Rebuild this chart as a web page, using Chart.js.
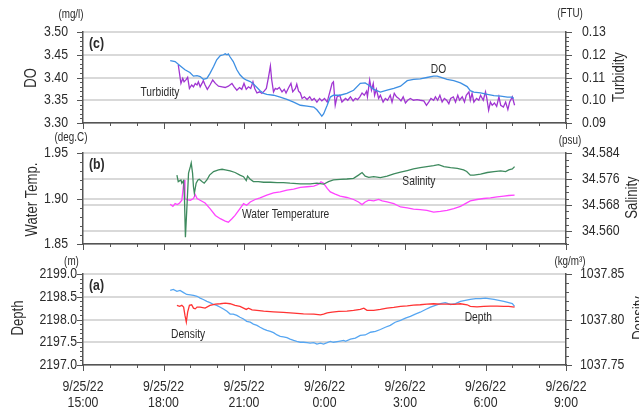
<!DOCTYPE html>
<html>
<head>
<meta charset="utf-8">
<script src="https://cdn.jsdelivr.net/npm/chart.js@4"></script>
<style>
  html, body { margin: 0; padding: 0; background: #fff; }
  #wrap { position: relative; width: 639px; height: 415px; overflow: hidden; }
  #wrap canvas { position: absolute; left: 0; top: 0; }
</style>
</head>
<body>
<div id="wrap">
  <canvas id="panelC" width="639" height="415"></canvas>
  <canvas id="panelB" width="639" height="415"></canvas>
  <canvas id="panelA" width="639" height="415"></canvas>
</div>
<script>
// time is in minutes after 9/25/22 15:00
const timeTickMinutes = [0, 180, 360, 540, 720, 900, 1080];
const timeTickLabels = [
    ['9/25/22', '15:00'], ['9/25/22', '18:00'], ['9/25/22', '21:00'], ['9/26/22', '0:00'],
    ['9/26/22', '3:00'], ['9/26/22', '6:00'], ['9/26/22', '9:00']
];

const doTicks = ['3.30', '3.35', '3.40', '3.45', '3.50'];
const turbTicks = ['0.09', '0.10', '0.11', '0.12', '0.13'];
const tempTicks = ['1.85', '1.90', '1.95'];
const salTicks = ['34.560', '34.568', '34.576', '34.584'];
const depthTicks = ['2197.0', '2197.5', '2198.0', '2198.5', '2199.0'];
const densTicks = ['1037.75', '1037.80', '1037.85'];

// (c) DO [mg/l]
const doTime = [195, 206, 217, 228, 239, 247, 255, 262, 269, 277,
    284, 292, 299, 307, 314, 318, 322, 325, 329, 336,
    344, 351, 359, 366, 374, 381, 389, 396, 404, 411,
    426, 441, 456, 471, 486, 501, 516, 523, 531, 534,
    538, 546, 553, 560, 575, 590, 605, 620, 631, 639,
    650, 665, 680, 695, 710, 725, 739, 754, 769, 784,
    792, 799, 814, 829, 844, 859, 866, 874, 889, 904,
    919, 934, 949, 960, 963];
const doValue = [3.437, 3.435, 3.426, 3.417, 3.411, 3.403, 3.404, 3.402, 3.396, 3.398,
    3.409, 3.424, 3.439, 3.448, 3.450, 3.452, 3.450, 3.452, 3.445, 3.435,
    3.417, 3.406, 3.398, 3.394, 3.391, 3.386, 3.378, 3.371, 3.365, 3.363,
    3.361, 3.357, 3.352, 3.346, 3.339, 3.337, 3.335, 3.329, 3.319, 3.315,
    3.320, 3.339, 3.357, 3.361, 3.361, 3.365, 3.372, 3.387, 3.388, 3.383,
    3.374, 3.368, 3.372, 3.376, 3.381, 3.393, 3.396, 3.397, 3.400, 3.403,
    3.403, 3.401, 3.396, 3.393, 3.388, 3.380, 3.371, 3.368, 3.366, 3.363,
    3.360, 3.359, 3.357, 3.357, 3.354];

// (c) Turbidity [FTU]
const turbTime = [213, 219, 223, 226, 231, 234, 238, 243, 247, 251,
    255, 258, 262, 266, 269, 273, 278, 284, 290, 296,
    303, 311, 318, 325, 333, 338, 344, 350, 355, 360,
    365, 370, 375, 380, 384, 389, 395, 400, 405, 410,
    415, 419, 422, 426, 430, 434, 439, 445, 450, 454,
    460, 465, 469, 475, 478, 482, 486, 490, 495, 501,
    507, 512, 517, 523, 529, 534, 540, 546, 549, 553,
    557, 560, 564, 568, 574, 579, 587, 592, 598, 604,
    609, 614, 619, 624, 629, 634, 636, 641, 645, 649,
    652, 656, 661, 665, 671, 676, 681, 687, 691, 696,
    701, 706, 711, 716, 721, 726, 732, 739, 747, 754,
    762, 768, 773, 778, 784, 788, 793, 798, 803, 808,
    813, 818, 822, 828, 833, 838, 842, 848, 853, 857,
    863, 866, 870, 874, 880, 885, 889, 895, 900, 903,
    907, 911, 915, 920, 925, 930, 934, 940, 945, 950,
    954, 960, 965];
const turbValue = [.1156, .1074, .1096, .1081, .1092, .1101, .1052, .1067, .1059, .1074,
    .1067, .1081, .1059, .1074, .1086, .1067, .1048, .1067, .1089, .1074,
    .1062, .1059, .1056, .1062, .1074, .1059, .1044, .1056, .1048, .1074,
    .1048, .1059, .1052, .1081, .1052, .1032, .1037, .1030, .1040, .1052,
    .1104, .1151, .1089, .1037, .1052, .1048, .1056, .1037, .1048, .1032,
    .1056, .1074, .1037, .1052, .1071, .1040, .1032, .1008, .1015, .1003,
    .1015, .1000, .1008, .0992, .1008, .0997, .1008, .0992, .1015, .1044,
    .1074, .1081, .0978, .1015, .1022, .0992, .1008, .1000, .1015, .0997,
    .1008, .1003, .1015, .1032, .1022, .1040, .1015, .1089, .1044, .1074,
    .1022, .1048, .1008, .1022, .0992, .1008, .1000, .1022, .0992, .1030,
    .1015, .1008, .0997, .1015, .0988, .1000, .1008, .1000, .1003, .1000,
    .0997, .0978, .0992, .1008, .1000, .1015, .1000, .1022, .0992, .1008,
    .1000, .0985, .1008, .1015, .0992, .1022, .1000, .1015, .0992, .1022,
    .1037, .1000, .1030, .0992, .1008, .1000, .1022, .1000, .1037, .1008,
    .0956, .0992, .0978, .0988, .0973, .1015, .0978, .0970, .0992, .0959,
    .0992, .1015, .0978];

// (b) Water temperature [deg.C]
const tempTime = [195, 201, 206, 211, 216, 221, 226, 228, 232, 240,
    247, 251, 255, 262, 273, 284, 296, 307, 318, 325,
    333, 340, 351, 359, 366, 374, 385, 396, 411, 426,
    441, 456, 471, 486, 501, 516, 527, 532, 538, 546,
    553, 564, 575, 590, 605, 616, 624, 631, 639, 650,
    661, 669, 680, 695, 710, 725, 739, 754, 769, 784,
    799, 814, 829, 844, 855, 866, 881, 896, 911, 926,
    941, 952, 965];
const tempValue = [1.8937, 1.8914, 1.8944, 1.8933, 1.8951, 1.8981, 1.9203, 1.9000, 1.8987, 1.8981,
    1.9000, 1.9044, 1.9000, 1.8981, 1.8951, 1.8889, 1.8814, 1.8778, 1.8751, 1.8740,
    1.8778, 1.8814, 1.8889, 1.8944, 1.8926, 1.8962, 1.8989, 1.9007, 1.9037, 1.9062,
    1.9073, 1.9092, 1.9103, 1.9122, 1.9129, 1.9137, 1.9156, 1.9184, 1.9167, 1.9111,
    1.9073, 1.9048, 1.9026, 1.9011, 1.8989, 1.8962, 1.8933, 1.8962, 1.8981, 1.8973,
    1.8989, 1.8973, 1.8962, 1.8944, 1.8907, 1.8896, 1.8884, 1.8878, 1.8870, 1.8851,
    1.8859, 1.8870, 1.8889, 1.8914, 1.8944, 1.8973, 1.8989, 1.9000, 1.9007, 1.9018,
    1.9026, 1.9033, 1.9037];

// (b) Salinity [psu]
const salTime = [210, 213, 219, 221, 225, 227, 229, 232, 236, 240,
    242, 245, 247, 249, 253, 257, 260, 266, 271, 277,
    283, 292, 303, 311, 318, 329, 340, 351, 359, 365,
    368, 374, 381, 392, 404, 419, 434, 448, 463, 486,
    508, 523, 538, 549, 560, 575, 590, 605, 616, 624,
    631, 639, 650, 665, 680, 695, 710, 725, 739, 754,
    769, 784, 795, 807, 822, 837, 851, 858, 866, 874,
    889, 904, 919, 934, 945, 952, 960, 965];
const salValue = [34.5772, 34.5752, 34.5757, 34.5747, 34.5755, 34.5695, 34.5581, 34.5664, 34.5778, 34.5798,
    34.5809, 34.5778, 34.5736, 34.5716, 34.5747, 34.5757, 34.5759, 34.5752, 34.5747, 34.5757,
    34.5772, 34.5783, 34.5788, 34.5790, 34.5788, 34.5785, 34.5780, 34.5772, 34.5767, 34.5755,
    34.5769, 34.5759, 34.5752, 34.5752, 34.5750, 34.5750, 34.5749, 34.5749, 34.5747, 34.5745,
    34.5745, 34.5747, 34.5744, 34.5752, 34.5757, 34.5759, 34.5760, 34.5762, 34.5772, 34.5780,
    34.5769, 34.5765, 34.5767, 34.5764, 34.5769, 34.5776, 34.5781, 34.5786, 34.5791, 34.5795,
    34.5798, 34.5801, 34.5804, 34.5798, 34.5795, 34.5793, 34.5788, 34.5783, 34.5772, 34.5772,
    34.5775, 34.5780, 34.5783, 34.5785, 34.5783, 34.5788, 34.5791, 34.5798];

// (a) Depth [m]
const depthTime = [195, 202, 210, 217, 225, 232, 240, 247, 255, 262,
    269, 277, 284, 292, 299, 307, 314, 322, 329, 336,
    344, 351, 359, 366, 374, 381, 389, 396, 404, 411,
    419, 426, 434, 441, 448, 456, 463, 471, 478, 486,
    493, 501, 508, 516, 523, 531, 538, 546, 553, 560,
    572, 583, 587, 598, 609, 620, 631, 643, 654, 665,
    676, 687, 698, 710, 721, 732, 743, 754, 766, 777,
    788, 799, 810, 822, 833, 844, 855, 866, 878, 889,
    900, 907, 919, 930, 941, 952, 960, 965];
const depthValue = [2198.64, 2198.66, 2198.62, 2198.64, 2198.59, 2198.55, 2198.54, 2198.53, 2198.51, 2198.47,
    2198.44, 2198.40, 2198.37, 2198.33, 2198.31, 2198.27, 2198.23, 2198.18, 2198.12, 2198.12,
    2198.09, 2198.05, 2198.01, 2197.96, 2197.94, 2197.90, 2197.87, 2197.83, 2197.79, 2197.76,
    2197.74, 2197.71, 2197.66, 2197.63, 2197.62, 2197.60, 2197.57, 2197.54, 2197.52, 2197.50,
    2197.50, 2197.49, 2197.48, 2197.49, 2197.46, 2197.48, 2197.46, 2197.49, 2197.52, 2197.50,
    2197.52, 2197.54, 2197.52, 2197.57, 2197.59, 2197.65, 2197.66, 2197.72, 2197.74, 2197.78,
    2197.83, 2197.87, 2197.94, 2197.98, 2198.03, 2198.07, 2198.12, 2198.16, 2198.22, 2198.27,
    2198.31, 2198.35, 2198.37, 2198.33, 2198.35, 2198.40, 2198.42, 2198.44, 2198.46, 2198.46,
    2198.47, 2198.46, 2198.44, 2198.42, 2198.40, 2198.37, 2198.35, 2198.29];

// (a) Density [kg/m3]
const densTime = [210, 216, 221, 225, 228, 231, 234, 238, 243, 247,
    251, 255, 262, 273, 284, 296, 307, 318, 329, 340,
    351, 359, 365, 370, 378, 389, 404, 426, 448, 471,
    493, 516, 531, 538, 546, 557, 572, 590, 605, 620,
    628, 635, 650, 665, 680, 695, 710, 725, 739, 754,
    769, 784, 799, 814, 829, 844, 859, 866, 881, 896,
    911, 926, 941, 952, 965];
const densValue = [1037.8155, 1037.8144, 1037.8155, 1037.8136, 1037.8045, 1037.7971, 1037.8081, 1037.8155, 1037.8162, 1037.8125,
    1037.8117, 1037.8136, 1037.8136, 1037.8125, 1037.8155, 1037.8169, 1037.8173, 1037.8180, 1037.8173, 1037.8155,
    1037.8144, 1037.8125, 1037.8111, 1037.8125, 1037.8106, 1037.8100, 1037.8092, 1037.8084, 1037.8078, 1037.8070,
    1037.8062, 1037.8059, 1037.8051, 1037.8059, 1037.8073, 1037.8081, 1037.8089, 1037.8092, 1037.8100, 1037.8111,
    1037.8125, 1037.8100, 1037.8100, 1037.8111, 1037.8125, 1037.8133, 1037.8144, 1037.8150, 1037.8158, 1037.8162,
    1037.8169, 1037.8173, 1037.8169, 1037.8169, 1037.8166, 1037.8173, 1037.8162, 1037.8144, 1037.8139, 1037.8144,
    1037.8147, 1037.8147, 1037.8144, 1037.8144, 1037.8136];

// no narrow font installed: use Liberation Sans squeezed horizontally
const FONT = "'Liberation Sans', Arial, sans-serif";
const SQUEEZE = 0.82;
const INK = '#2b2b2b';
const AXIS = '#555555';
const GRID = '#d9d9d9';
const PLOT_LEFT = 83;
const PLOT_RIGHT = 566;

Chart.defaults.font.family = FONT;

function pts(t, v) {
    return t.map((x, i) => ({ x: x, y: v[i] }));
}

function tickList(min, max, step) {
    const out = [];
    const n = Math.round((max - min) / step);
    for (let i = 0; i <= n; i++) out.push({ value: +(min + i * step).toFixed(6) });
    return out;
}

function majorIndex(v, labels, step) {
    return labels.findIndex(l => Math.abs(Number(l) - v) < step / 10);
}

function narrowText(ctx, text, x, y, align, font, angle) {
    ctx.save();
    ctx.translate(x, y);
    if (angle) ctx.rotate(angle);
    ctx.scale(SQUEEZE, 1);
    ctx.font = font;
    ctx.textAlign = align;
    ctx.textBaseline = 'middle';
    ctx.fillText(text, 0, 0);
    ctx.restore();
}

function yAxis(side, ax) {
    return {
        type: 'linear',
        position: side,
        min: ax.min,
        max: ax.max,
        afterBuildTicks: s => { s.ticks = tickList(ax.min, ax.max, ax.step); },
        afterFit: s => { s.width = side === 'left' ? PLOT_LEFT : 639 - PLOT_RIGHT; },
        grid: {
            drawTicks: false,
            lineWidth: 2,
            color: c => majorIndex(c.tick.value, ax.labels, ax.step) >= 0 ? GRID : 'rgba(0,0,0,0)'
        },
        border: { display: true, color: AXIS, width: 1.5 },
        ticks: { autoSkip: false, callback: () => '' }
    };
}

function xAxis(p) {
    return {
        type: 'linear',
        position: 'bottom',
        min: 0,
        max: 1080,
        afterBuildTicks: s => { s.ticks = tickList(0, 1080, 60); },
        afterFit: s => { s.height = p.xHeight; },
        grid: { drawOnChartArea: false, drawTicks: false },
        border: { display: true, color: AXIS, width: 1.5 },
        ticks: { autoSkip: false, maxRotation: 0, minRotation: 0, callback: () => '' }
    };
}

// tick marks, tick labels, panel letter, units, axis titles and line labels
function decor(p) {
    return {
        id: 'decor',
        afterDraw(chart) {
            const ctx = chart.ctx;
            const a = chart.chartArea;
            ctx.save();
            ctx.strokeStyle = AXIS;
            ctx.lineWidth = 1;
            ctx.fillStyle = INK;
            [['yL', p.left, -1, a.left], ['yR', p.right, 1, a.right]].forEach(([id, ax, dir, x0]) => {
                const s = chart.scales[id];
                s.ticks.forEach(t => {
                    const py = s.getPixelForValue(t.value);
                    const y = Math.round(py) + 0.5;
                    const i = majorIndex(t.value, ax.labels, ax.step);
                    const len = i >= 0 ? 6 : 3;
                    ctx.beginPath();
                    ctx.moveTo(x0, y);
                    ctx.lineTo(x0 + dir * len, y);
                    ctx.stroke();
                    if (i >= 0) {
                        narrowText(ctx, ax.labels[i], x0 + dir * ax.pad, py, dir < 0 ? 'right' : 'left', '15px ' + FONT);
                    }
                });
            });
            const sx = chart.scales.x;
            sx.ticks.forEach(t => {
                const px = sx.getPixelForValue(t.value);
                const x = Math.round(px) + 0.5;
                const i = timeTickMinutes.indexOf(t.value);
                ctx.beginPath();
                ctx.moveTo(x, a.bottom);
                ctx.lineTo(x, a.bottom + (i >= 0 ? 6 : 3));
                ctx.stroke();
                if (p.showTime && i >= 0) {
                    narrowText(ctx, timeTickLabels[i][0], px, a.bottom + 22, 'center', '15px ' + FONT);
                    narrowText(ctx, timeTickLabels[i][1], px, a.bottom + 37.5, 'center', '15px ' + FONT);
                }
            });

            narrowText(ctx, p.letter, a.left + 6, a.top + 12, 'left', 'bold 15px ' + FONT);
            p.units.forEach(u => narrowText(ctx, u[0], u[1], u[2], 'center', '12px ' + FONT));

            const sy = chart.scales.yL;
            p.notes.forEach(n => narrowText(ctx, n[0], sx.getPixelForValue(n[1]), sy.getPixelForValue(n[2]), 'center', '12.5px ' + FONT));

            p.titles.forEach(tt => narrowText(ctx, tt[0], tt[1], tt[2], 'center', '16px ' + FONT, -Math.PI / 2));
            ctx.restore();
        }
    };
}

const panels = [
    {
        id: 'panelC', letter: '(c)', top: 32, bottom: 123, xHeight: 8, showTime: false,
        left: { min: 3.30, max: 3.50, step: 0.01, labels: doTicks, pad: 15 },
        right: { min: 0.09, max: 0.13, step: 0.002, labels: turbTicks, pad: 16 },
        series: [
            { label: 'DO', data: pts(doTime, doValue), color: '#3d8fe3', axis: 'yL' },
            { label: 'Turbidity', data: pts(turbTime, turbValue), color: '#a035d2', axis: 'yR' }
        ],
        notes: [['Turbidity', 172, 3.366], ['DO', 795, 3.418]],
        units: [['(mg/l)', 71, 15], ['(FTU)', 570, 14]],
        titles: [['DO', 31.5, 78], ['Turbidity', 620, 77]]
    },
    {
        id: 'panelB', letter: '(b)', top: 153, bottom: 244, xHeight: 8, showTime: false,
        left: { min: 1.85, max: 1.95, step: 0.01, labels: tempTicks, pad: 15 },
        right: { min: 34.556, max: 34.584, step: 0.002, labels: salTicks, pad: 16 },
        series: [
            { label: 'Salinity', data: pts(salTime, salValue), color: '#3e8a5e', axis: 'yR' },
            { label: 'Water Temperature', data: pts(tempTime, tempValue), color: '#ff44ff', axis: 'yL' }
        ],
        notes: [['Water Temperature', 453, 1.8826], ['Salinity', 751, 1.9184]],
        units: [['(deg.C)', 71, 138], ['(psu)', 570, 141]],
        titles: [['Water Temp.', 33, 199.5], ['Salinity', 633, 197.5]]
    },
    {
        id: 'panelA', letter: '(a)', top: 274, bottom: 365, xHeight: 50, showTime: true,
        left: { min: 2197.0, max: 2199.0, step: 0.1, labels: depthTicks, pad: 6 },
        right: { min: 1037.75, max: 1037.85, step: 0.01, labels: densTicks, pad: 14 },
        series: [
            { label: 'Density', data: pts(densTime, densValue), color: '#ff3333', axis: 'yR' },
            { label: 'Depth', data: pts(depthTime, depthValue), color: '#56a6f2', axis: 'yL' }
        ],
        notes: [['Density', 235, 2197.67], ['Depth', 884, 2198.05]],
        units: [['(m)', 71.5, 261.5], ['(kg/m\u00b3)', 570, 262]],
        titles: [['Depth', 18.5, 318], ['Density', 640, 318]]
    }
];

panels.forEach(p => {
    new Chart(document.getElementById(p.id), {
        type: 'line',
        data: {
            datasets: p.series.map(s => ({
                label: s.label,
                data: s.data,
                yAxisID: s.axis,
                borderColor: s.color,
                borderWidth: 1.3,
                pointRadius: 0,
                tension: 0,
                fill: false
            }))
        },
        options: {
            responsive: false,
            animation: false,
            devicePixelRatio: 1,
            layout: { padding: { top: p.top, bottom: 415 - p.bottom - p.xHeight, left: 0, right: 0 } },
            plugins: { legend: { display: false }, tooltip: { enabled: false } },
            scales: {
                x: xAxis(p),
                yL: yAxis('left', p.left),
                yR: yAxis('right', p.right)
            }
        },
        plugins: [decor(p)]
    });
});
</script>
</body>
</html>
